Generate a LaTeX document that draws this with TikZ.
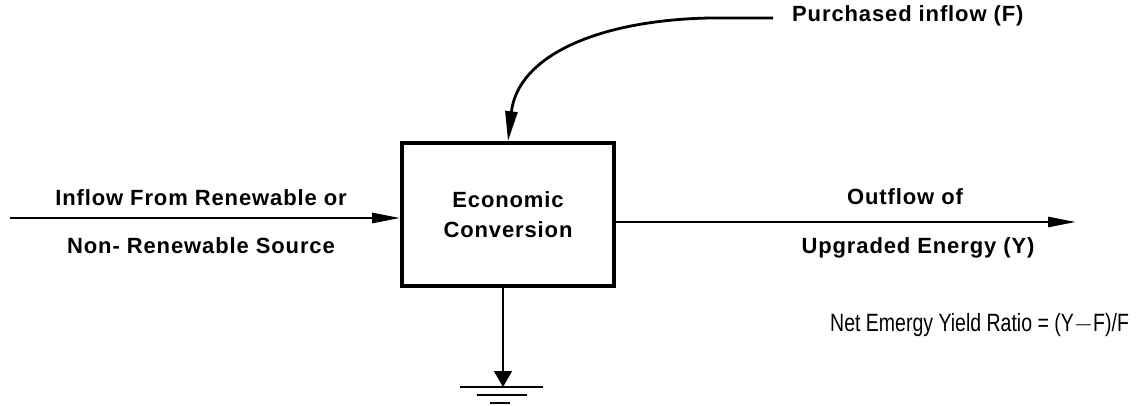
\documentclass[tikz,border=0pt]{standalone}
\usepackage{fontspec}
\setmainfont{Liberation Sans}
\newfontfamily\lblfont[LetterSpace=4]{Liberation Sans}
\newfontfamily\eqfont[FakeStretch=0.78]{Liberation Sans}
\usetikzlibrary{arrows.meta}
\begin{document}
\begin{tikzpicture}[x=1pt,y=-1pt,
  lbl/.style={font=\lblfont\fontsize{22}{24}\selectfont\bfseries, inner sep=0pt},
  eq/.style={font=\eqfont\fontsize{25}{28}\selectfont, inner sep=0pt},
  flow/.style={line width=2.6pt, -{Triangle[length=28pt,width=10pt]}},
  proc/.style={draw, line width=3.6pt, minimum width=212pt, minimum height=143pt, inner sep=0pt}]
\useasboundingbox (0,0) rectangle (1138,406);
\node[proc] (box) at (508,214.5) {};
\node[lbl, align=center] (econ) at (508,215) {Economic\\[6pt]Conversion};
\node[lbl] (in1) at (201,198) {Inflow From Renewable or};
\node[lbl] (in2) at (201,246) {Non- Renewable Source};
\node[lbl] (out1) at (905,197) {Outflow of};
\node[lbl] (out2) at (918,248) {Upgraded Energy (Y)};
\node[lbl, anchor=west] (pin) at (792,16) {Purchased inflow (F)};
\node[eq, anchor=west] (ratio) at (830,325) {Net Emergy Yield Ratio = (Y$-$F)/F};
\coordinate (src) at (10,218);
\coordinate (sink) at (1076,222);
\coordinate (pstart) at (773,18);
\coordinate (gnd) at (503,387);
\draw[flow] (src) -- (src -| box.west);
\draw[flow] (box.east |- sink) -- (sink);
\draw[line width=2.8pt, -{Triangle[length=30pt,width=12pt]}] (pstart) -- (710,18) .. controls (600,20) and (518,55) .. (box.north);
\draw[line width=1.6pt, -{Triangle[length=16pt,width=18pt]}] (box.south -| gnd) -- (gnd);
\draw[line width=2.4pt] (460,387) -- (543,387);
\draw[line width=2.4pt] (477,395) -- (527,395);
\draw[line width=2.4pt] (490,403) -- (510,403);
\end{tikzpicture}
\end{document}
